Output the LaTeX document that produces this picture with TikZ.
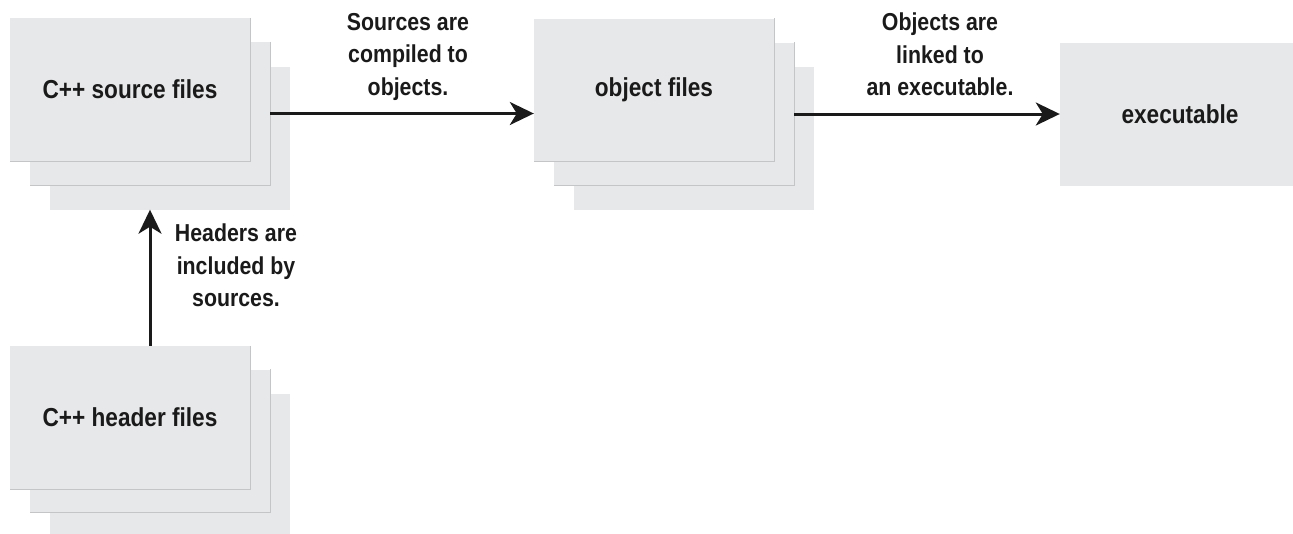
\documentclass[tikz,border=0pt]{standalone}
\usepackage{fontspec}
\setmainfont{Liberation Sans}[FakeStretch=0.87]
\usetikzlibrary{arrows.meta}
\definecolor{boxfill}{HTML}{E7E8E9}
\definecolor{boxedge}{HTML}{C4C5C7}
\definecolor{ink}{HTML}{1A1A1A}
\tikzset{
  filebox/.style={fill=boxfill, draw=none, minimum width=240pt, minimum height=143pt, inner sep=0pt, text=ink, font=\bfseries\fontsize{26}{30}\selectfont},
  flow/.style={line width=3pt, ink, -{Stealth[length=24pt,width=23pt,inset=7pt]}},
  note/.style={align=center, text=ink, font=\bfseries\fontsize{24.5}{32.5}\selectfont, inner sep=0pt, anchor=north},
}
\newcommand{\edgeof}[1]{\draw[boxedge, line width=1.4pt] (#1.north east) -- (#1.south east) -- (#1.south west);}
\begin{document}
\begin{tikzpicture}[x=1pt,y=-1pt]
\useasboundingbox (0,0) rectangle (1293,533);
\clip (0,0) rectangle (1293,533);
% source stack
\node[filebox] (src3) at (170,138) {};
\node[filebox] (src2) at (150,113.5) {};
\edgeof{src2}
\node[filebox] (src1) at (130,89.5) {C++ source files};
\edgeof{src1}
% object stack
\node[filebox] (obj3) at (694,138) {};
\node[filebox] (obj2) at (674,114) {};
\edgeof{obj2}
\node[filebox] (obj1) at (654,90) {object files};
\edgeof{obj1}
% executable
\node[filebox] (exe) at (1180,114.5) {executable};
% header stack
\node[filebox] (hdr3) at (170,465) {};
\node[filebox] (hdr2) at (150,441) {};
\edgeof{hdr2}
\node[filebox] (hdr1) at (130,417.5) {C++ header files};
\edgeof{hdr1}
% arrows
\draw[flow] (src2.east) -- (obj1.west |- src2.east);
\draw[flow] (obj2.east) -- (exe.west |- obj2.east);
\draw[flow] (src2.center |- hdr1.north) -- (src2.center |- src3.south);
% labels
\node[note] (l1) at (408,13) {Sources are\\compiled to\\objects.};
\node[note] (l2) at (940,13) {Objects are\\linked to\\an executable.};
\node[note] (l3) at (236,224) {Headers are\\included by\\sources.};
\end{tikzpicture}
\end{document}
